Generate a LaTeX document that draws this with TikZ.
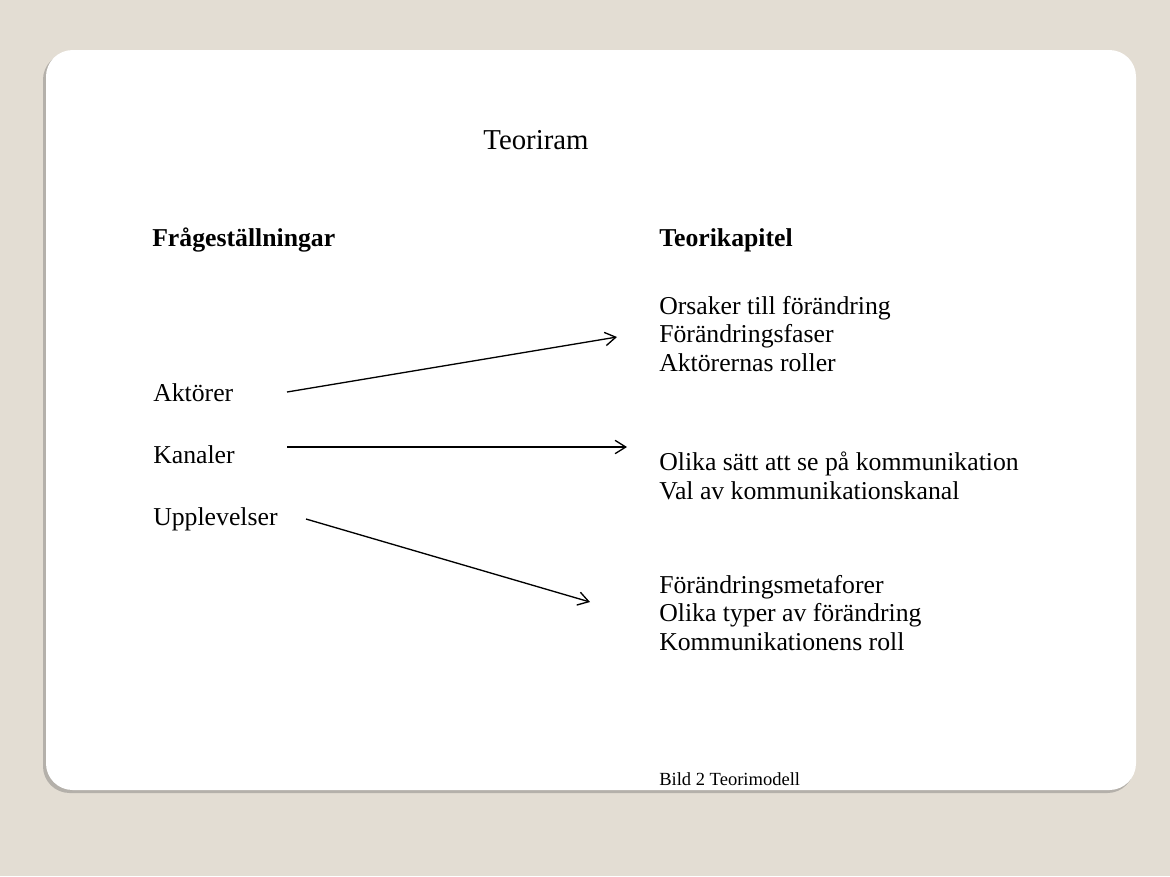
\documentclass[tikz,border=0pt]{standalone}
\usepackage{fontspec}
\setmainfont{Liberation Serif}
\usepackage{tikz}
\usetikzlibrary{arrows.meta,calc}

\begin{document}
\begin{tikzpicture}[x=0.75pt, y=-0.75pt]

% Colori
\definecolor{colSfondo}{HTML}{E3DDD3}
\definecolor{colOmbra}{HTML}{B4B0AA}

\tikzset{
  testo/.style={anchor=west, inner sep=0pt, align=left, font=\fontsize{19.3}{21.6}\selectfont},
  titolo/.style={testo, font=\fontsize{19.3}{21.6}\selectfont\bfseries},
  freccia/.style={-{Straight Barb[length=8pt, width=10pt, line width=1pt]}, line width=1pt, black}
}

% Sfondo e scheda
\fill[colSfondo] (0,0) rectangle (1170,876);
\useasboundingbox (0,0) rectangle (1170,876);
\fill[colOmbra, rounded corners=20] (43,53) rectangle (1134,793);
\fill[white, rounded corners=20] (46,50) rectangle (1136,790);

% Titolo
\node[testo, anchor=center, font=\fontsize{21.6}{24}\selectfont] (titolo) at (536,140) {Teoriram};

% Intestazioni
\node[titolo] (domande) at (152,240) {Frågeställningar};
\node[titolo] (capitoli) at (659,240) {Teorikapitel};

% Domande
\node[testo] (akt) at (153,393) {Aktörer};
\node[testo] (kan) at (153,455) {Kanaler};
\node[testo] (upp) at (153,519) {Upplevelser};

% Capitoli di teoria
\node[testo] (grp1) at (659,334) {Orsaker till förändring\\Förändringsfaser\\Aktörernas roller};
\node[testo] (grp2) at (659,476) {Olika sätt att se på kommunikation\\Val av kommunikationskanal};
\node[testo] (grp3) at (659,613) {Förändringsmetaforer\\Olika typer av förändring\\Kommunikationens roll};

% Didascalia
\node[testo, font=\fontsize{13.9}{15}\selectfont] (bild) at (659,779) {Bild 2 Teorimodell};

% Frecce
\coordinate (aktUt) at ($(akt.west)+(134,-1)$);
\coordinate (grp1In) at ($(grp1.west)+(-42,3)$);
\coordinate (kanUt) at ($(kan.west)+(134,-8)$);
\coordinate (grp2In) at ($(grp2.west)+(-32,-29)$);
\coordinate (uppUt) at ($(upp.west)+(153,0)$);
\coordinate (grp3In) at ($(grp3.west)+(-69,-11)$);

\draw[freccia] (aktUt) -- (grp1In);
\draw[freccia] (kanUt) -- (grp2In);
\draw[freccia] (uppUt) -- (grp3In);
\end{tikzpicture}
\end{document}
